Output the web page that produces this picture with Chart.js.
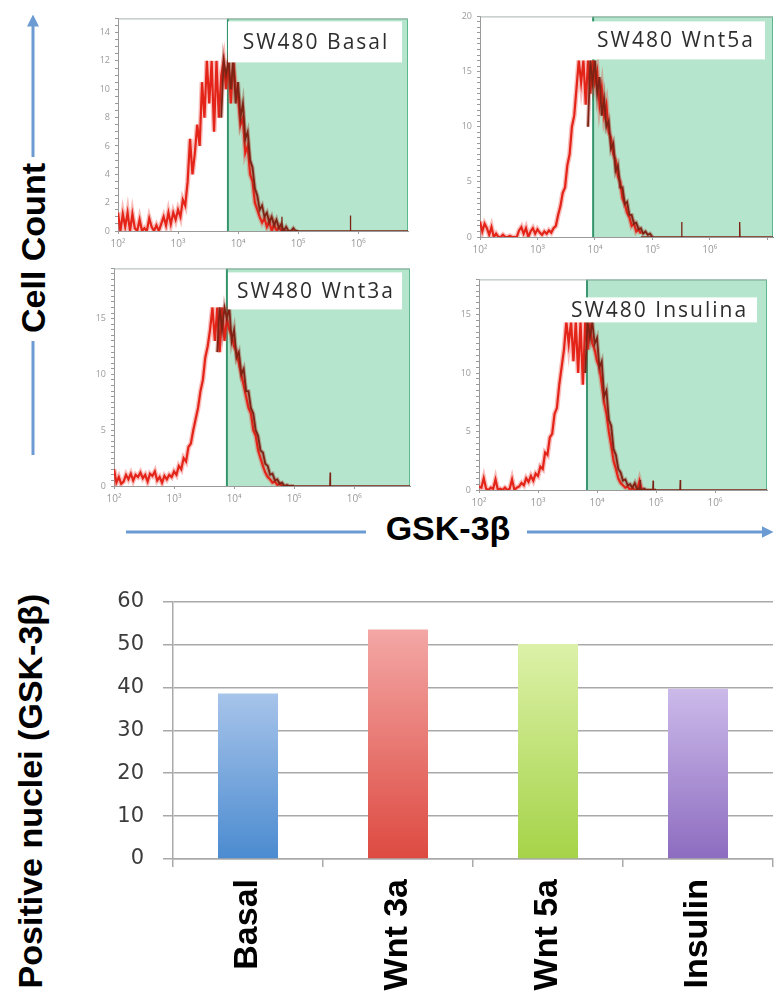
<!DOCTYPE html>
<html><head><meta charset="utf-8">
<script src="https://cdn.jsdelivr.net/npm/chart.js@4.4.0/dist/chart.umd.min.js"></script>
<style>
html,body{margin:0;padding:0;background:#fff;}
body{width:779px;height:998px;position:relative;overflow:hidden;font-family:"Liberation Sans",Arial,sans-serif;}
canvas{position:absolute;}
.ttl{position:absolute;font-weight:bold;font-size:34px;color:#000;white-space:nowrap;text-align:center;font-family:"Liberation Sans",Arial,sans-serif;}
</style></head><body>
<svg width="779" height="998" style="position:absolute;left:0;top:0">
  <defs>
    <marker id="ah" markerWidth="4" markerHeight="4" refX="1.5" refY="2" orient="auto" markerUnits="strokeWidth">
      <path d="M0,0 L4,2 L0,4 z" fill="#6b9bd2"/>
    </marker>
  </defs>
  <line x1="33" y1="157" x2="33" y2="22" stroke="#6b9bd2" stroke-width="3" marker-end="url(#ah)"/>
  <line x1="33" y1="341" x2="33" y2="455" stroke="#6b9bd2" stroke-width="3"/>
  <line x1="126" y1="532" x2="366" y2="532" stroke="#6b9bd2" stroke-width="3"/>
  <line x1="527" y1="532" x2="766" y2="532" stroke="#6b9bd2" stroke-width="3" marker-end="url(#ah)"/>
</svg>
<div class="ttl" style="left:-67px;top:228px;width:200px;height:40px;line-height:40px;transform:rotate(-90deg);">Cell Count</div>
<div class="ttl" style="left:348px;top:508px;width:200px;height:40px;line-height:40px;">GSK-3β</div>
<div class="ttl" style="left:-185px;top:771px;width:430px;height:40px;line-height:40px;transform:rotate(-90deg);">Positive nuclei (GSK-3β)</div>
<script>
// ---------- DATA ----------
const panelTitles = ['SW480 Basal', 'SW480 Wnt5a', 'SW480 Wnt3a', 'SW480 Insulina'];

// fluorescence channels, in log10 units
const redBins = [
  2.00,2.04,2.08,2.12,2.16,2.20,2.24,2.28,2.32,2.36,
  2.40,2.44,2.48,2.52,2.56,2.60,2.64,2.68,2.72,2.76,
  2.80,2.84,2.88,2.92,2.96,3.00,3.04,3.08,3.12,3.16,
  3.20,3.24,3.28,3.32,3.36,3.40,3.44,3.48,3.52,3.56,
  3.60,3.64,3.68,3.72,3.76,3.80,3.84,3.88,3.92,3.96,
  4.00,4.04,4.08,4.12,4.16,4.20,4.24,4.28,4.32,4.36,
  4.40,4.44,4.48,4.52,4.56,4.60,4.64,4.68,4.72,4.76,
  4.80];
const darkBins = [
  3.60,3.64,3.68,3.72,3.76,3.80,3.84,3.88,3.92,3.96,
  4.00,4.04,4.08,4.12,4.16,4.20,4.24,4.28,4.32,4.36,
  4.40,4.44,4.48,4.52,4.56,4.60,4.64,4.68,4.72,4.76,
  4.80,4.84,4.88,4.92,4.96,5.00];

const basalRed = [
  1.3,0,1.2,0.3,1.3,0,1.2,0.2,0,0.8,
  0,0.2,0,0.9,0.3,0,0.4,0,0.5,1.0,
  0.4,1.3,0.5,1.3,0.8,1.5,1.0,2.2,1.8,3.5,
  6.5,4.0,5.5,7.5,6.0,10.5,8.0,12,9,12,
  7,12,8,11,12,10,12,9,12,10,
  9.5,7.5,8,5.5,6,4,3.5,2,1.5,1.0,
  0.6,0.9,0.3,0.7,0,0.5,0,0.3,0,0,
  0];
const basalDark = [
  null,null,null,8,12,11,12,10,12,9,
  10.5,8,9,6.5,7,5,4.5,3,2.5,1.5,
  1.8,1.0,1.3,0.6,1.0,0.4,0.8,0.2,0.5,0,
  0.3,0,0,0.2,0,0];
const basalSpikeX = [4.73, 5.87];
const basalSpikeY = [1.0, 1.1];

const wnt5aRed = [
  1.4,0.5,1.2,0.8,0.2,0.9,0,0.3,0,0,
  0.2,0,0,0.1,0,0,0,0.6,0.9,0.3,
  0.8,0,0.5,0.8,0.3,0.7,0.4,0.2,0.5,0.3,
  0.6,0.4,0.8,1.0,2.0,2.8,4.0,4.5,6.5,7.5,
  10,11,13.5,16,14,16,12,16,13,16,
  14,15,12,13.5,11,12,9.5,9,7.5,7,
  5.5,5,3.5,3,2.2,1.8,1.0,1.2,0.5,0.7,
  0.3];
const wnt5aDark = [
  null,null,null,null,null,null,null,10,16,14,
  16,13,14.5,11,12.5,10,10.5,8,8.5,6,
  6.5,4.5,4.5,3,3.2,2,2,1.2,1.3,0.7,
  0.8,0.3,0.5,0.2,0.3,0];
const wnt5aSpikeX = [5.51, 6.52];
const wnt5aSpikeY = [1.35, 1.35];

const wnt3aRed = [
  1.5,0.3,0.8,0.2,0.4,1.0,0.6,1.1,0.5,1.0,
  0.8,1.2,0.7,1.0,0.4,1.1,0.9,1.3,0.5,0.8,
  0.3,0.9,0.6,1.0,0.8,1.3,1.0,1.8,1.5,2.5,
  2.2,3.5,3.8,5.0,6.0,7.0,8.5,9.5,11.5,12.5,
  14,16,13,16,12,16,13,15,14,13.5,
  12.5,12,11,10,9,8,7,6.5,5,4.5,
  3.2,2.5,1.8,1.2,0.8,0.6,0.3,0.4,0.1,0.2,
  0];
const wnt3aDark = [
  null,null,null,12,16,14,16,15,16,13,
  14,11.5,12,10,10.5,8.5,8.5,7,6.5,5,
  4.5,3.2,3,2,1.8,1.0,1.1,0.5,0.6,0.2,
  0.3,0,0.1,0,0,0];
const wnt3aSpikeX = [5.6];
const wnt3aSpikeY = [1.2];

const insulinaRed = [
  0.3,0.2,1.0,0.1,0,0.2,0.1,0.9,0,0.1,
  0,0.2,0,0.1,0.9,0,0.2,0.3,0.6,0.4,
  1.0,0.7,1.2,0.8,1.4,1.2,2.0,1.8,3.2,3.0,
  4.5,4.8,6.5,7.0,9.0,10.5,12.0,14.4,12.5,14.4,
  11,14.4,10,14.4,9,14.4,12,14,12.5,12,
  11,10.5,9,7.5,6.5,5,3.8,2.5,1.8,1.0,
  0.6,0.4,0.2,0.3,0,0.2,0,0,0.8,0,
  0];
const insulinaDark = [
  null,null,null,null,null,10,14.4,13,14.4,12.5,
  13,10.5,11,8,8.5,6,5.5,3.5,3,1.8,
  1.5,0.8,0.9,0.4,0.5,0.2,0.6,0,0.2,0,
  0.1,0,0,0,0,0];
const insulinaSpikeX = [4.73, 4.95, 5.41];
const insulinaSpikeY = [0.85, 0.8, 0.85];

const gates = [3.83, 3.97, 3.88, 3.83];       // positive gate start (log10)
const yMaxes = [15, 20, 19.5, 18];
const xMaxes = [6.83, 7.1, 6.93, 6.88];
const yLabelSteps = [2, 5, 5, 5];
const xLabelDecades = [2, 3, 4, 5, 6];

// bar chart
const barCategories = ['Basal', 'Wnt 3a', 'Wnt 5a', 'Insulin'];
const barValues = [38.6, 53.5, 50.1, 39.7];
const barTicks = [0, 10, 20, 30, 40, 50, 60];

// ---------- STYLE ----------
const barTop = ['#a7c4ea', '#f3a7a5', '#dcf1a8', '#ccbaea'];
const barBottom = ['#4b8bd0', '#dd4a41', '#a5d348', '#8d6cc0'];
const sup = {2:'²',3:'³',4:'⁴',5:'⁵',6:'⁶',7:'⁷'};

Chart.defaults.font.family = '"Open Sans", sans-serif';
Chart.defaults.animation = false;

const panels = [
  {title: panelTitles[0], red: basalRed, dark: basalDark, sx: basalSpikeX, sy: basalSpikeY, i: 0,
   area: [118, 14, 408, 231], box: {l: 110, r: 6, t: 3, b: 44}},
  {title: panelTitles[1], red: wnt5aRed, dark: wnt5aDark, sx: wnt5aSpikeX, sy: wnt5aSpikeY, i: 1,
   area: [480, 12, 773, 237], box: {l: 105, r: 8, t: 5, b: 43}},
  {title: panelTitles[2], red: wnt3aRed, dark: wnt3aDark, sx: wnt3aSpikeX, sy: wnt3aSpikeY, i: 2,
   area: [114, 264, 410, 486], box: {l: 114, r: 8, t: 4, b: 41}},
  {title: panelTitles[3], red: insulinaRed, dark: insulinaDark, sx: insulinaSpikeX, sy: insulinaSpikeY, i: 3,
   area: [479, 275, 767, 490], box: {l: 81, r: 10, t: 18, b: 43}}
];

const labelBox = {
  id: 'labelBox',
  afterDatasetsDraw(chart, args, o) {
    const {ctx, chartArea: a} = chart;
    const x0 = a.left + o.l, x1 = a.right - o.r, y0 = a.top + o.t, y1 = a.top + o.b;
    ctx.save();
    ctx.fillStyle = '#ffffff';
    ctx.fillRect(x0, y0, x1 - x0, y1 - y0);
    ctx.font = '21px "Open Sans"';
    try { ctx.letterSpacing = '2px'; } catch (e) {}
    ctx.fillStyle = '#2e2e2e';
    ctx.textAlign = 'center';
    ctx.textBaseline = 'middle';
    ctx.fillText(o.text, (x0 + x1) / 2 + 1, (y0 + y1) / 2 + 1);
    ctx.restore();
  },
  afterDraw(chart) {
    const {ctx, chartArea: a} = chart;
    ctx.save();
    ctx.strokeStyle = '#a9b4ae';
    ctx.lineWidth = 1;
    ctx.beginPath();
    ctx.moveTo(a.left, a.top + 0.5);
    ctx.lineTo(a.right, a.top + 0.5);
    ctx.stroke();
    ctx.restore();
  }
};

function pts(xs, ys) { return xs.map((x, k) => ({x: x, y: ys[k]})); }

function makeHist(p) {
  const padL = 32, padT = 6, padR = 5, axisH = 24;
  const [L, T, R, B] = p.area;
  const cv = document.createElement('canvas');
  cv.width = R - L + padL + padR;
  cv.height = B - T + padT + axisH;
  cv.style.left = (L - padL) + 'px';
  cv.style.top = (T - padT) + 'px';
  document.body.appendChild(cv);
  const gate = gates[p.i], yMax = yMaxes[p.i], xMax = xMaxes[p.i], step = yLabelSteps[p.i];
  const spikePts = [{x: Math.min(4.8, p.sx[0] - 0.02), y: 0}];
  p.sx.forEach((s, k) => { spikePts.push({x: s - 0.006, y: 0}, {x: s, y: p.sy[k]}, {x: s + 0.006, y: 0}); });
  spikePts.push({x: xMax, y: 0});
  const redPts = pts(redBins, p.red), darkPts = pts(darkBins, p.dark);
  new Chart(cv, {
    type: 'line',
    data: {
      datasets: [
        {data: [{x: gate, y: 0}, {x: gate, y: yMax}, {x: xMax, y: yMax}, {x: xMax, y: 0}],
         fill: 'origin', backgroundColor: '#b5e5cc', borderColor: '#5cb98e', borderWidth: 2,
         pointRadius: 0, tension: 0, order: 10},
        {data: [{x: gate, y: 0}, {x: gate, y: yMax}], borderColor: '#2f8d68', borderWidth: 1.5,
         pointRadius: 0, fill: false, order: 9},
        {data: redPts, borderColor: 'rgba(236,70,60,0.35)', borderWidth: 5, pointRadius: 0,
         fill: false, tension: 0, order: 5},
        {data: redPts, borderColor: '#e42418', borderWidth: 2.2, pointRadius: 0,
         fill: false, tension: 0, order: 3},
        {data: spikePts, borderColor: '#7b2214', borderWidth: 1.3, pointRadius: 0, fill: false, tension: 0, order: 2},
        {data: darkPts, borderColor: 'rgba(150,40,25,0.35)', borderWidth: 4, pointRadius: 0,
         fill: false, tension: 0, spanGaps: false, order: 1.5},
        {data: darkPts, borderColor: '#7e2214', borderWidth: 1.8, pointRadius: 0,
         fill: false, tension: 0, spanGaps: false, order: 1}
      ]
    },
    options: {
      responsive: false,
      animation: false,
      layout: {padding: {top: padT, right: padR, left: 0, bottom: 0}},
      plugins: {legend: {display: false}, tooltip: {enabled: false},
                labelBox: Object.assign({text: p.title}, p.box)},
      scales: {
        x: {
          type: 'linear', min: 2, max: xMax,
          afterFit: s => { s.height = axisH; },
          grid: {display: true, drawOnChartArea: false, tickLength: 3, color: '#9a9a9a'},
          border: {color: '#9a9a9a'},
          ticks: {stepSize: 1, includeBounds: false, autoSkip: false, maxRotation: 0,
                  color: '#9a9a9a', font: {size: 10}, padding: 4,
                  callback: v => xLabelDecades.includes(v) ? '10' + sup[v] : ''}
        },
        y: {
          type: 'linear', min: 0, max: yMax,
          afterFit: s => { s.width = padL; },
          grid: {display: true, drawOnChartArea: false, tickLength: 3, color: '#9a9a9a'},
          border: {color: '#9a9a9a'},
          ticks: {stepSize: 0.5, autoSkip: false, color: '#9a9a9a', font: {size: 9}, padding: 5,
                  callback: v => (Math.abs(v % step) < 1e-9 ? String(v) : '')}
        }
      }
    },
    plugins: [labelBox]
  });
}
panels.forEach(makeHist);

// ---------- BAR CHART ----------
(function () {
  const cv = document.createElement('canvas');
  cv.width = 779; cv.height = 428;
  cv.style.left = '0px'; cv.style.top = '570px';
  document.body.appendChild(cv);
  new Chart(cv, {
    type: 'bar',
    data: {
      labels: barCategories,
      datasets: [{
        data: barValues,
        barPercentage: 0.4,
        categoryPercentage: 1.0,
        borderWidth: 0,
        backgroundColor: (c) => {
          const i = c.dataIndex;
          const chart = c.chart, a = chart.chartArea;
          if (!a || c.type !== 'data' || !chart.scales.y) return barBottom[i] || '#888';
          const yTop = chart.scales.y.getPixelForValue(c.raw);
          const g = chart.ctx.createLinearGradient(0, yTop, 0, a.bottom);
          g.addColorStop(0, barTop[i]);
          g.addColorStop(1, barBottom[i]);
          return g;
        }
      }]
    },
    options: {
      responsive: false,
      animation: false,
      layout: {padding: {top: 23, right: 6, left: 0, bottom: 0}},
      plugins: {legend: {display: false}, tooltip: {enabled: false}},
      scales: {
        y: {
          min: barTicks[0], max: barTicks[barTicks.length - 1],
          afterFit: s => { s.width = 173; },
          afterBuildTicks: s => { s.ticks = barTicks.map(v => ({value: v})); },
          grid: {color: '#a9a9a9', lineWidth: 1.5, tickLength: 10},
          border: {color: '#a9a9a9', width: 1.5},
          ticks: {color: '#3c3c3c', font: {family: '"DejaVu Sans"', size: 21}, padding: 19}
        },
        x: {
          afterFit: s => { s.height = 139; },
          grid: {display: true, drawOnChartArea: false, tickLength: 8, color: '#a9a9a9', lineWidth: 1.5, offset: true},
          border: {color: '#a9a9a9', width: 1.5},
          ticks: {color: '#000', minRotation: 90, maxRotation: 90, padding: 12,
                  font: {family: '"Liberation Sans", Arial', size: 34, weight: 'bold'}}
        }
      }
    }
  });
})();
</script>
</body></html>
